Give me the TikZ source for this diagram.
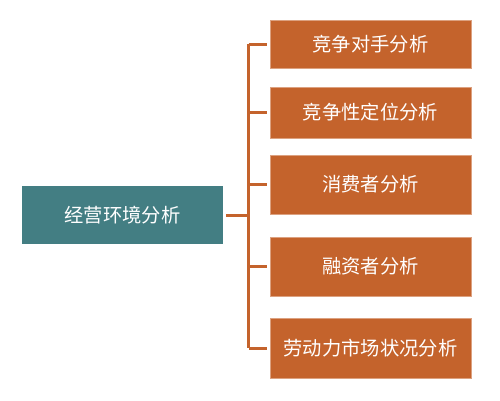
\documentclass[tikz,border=0pt]{standalone}
\usepackage{fontspec}
\newfontfamily\cjk{Noto Sans CJK SC}
\definecolor{boxorange}{HTML}{C4632C}
\definecolor{boxteal}{HTML}{437E83}
\tikzset{
  base/.style={rectangle, inner sep=0pt, minimum width=201pt, text=white,
    font=\cjk\fontsize{19.3pt}{21pt}\selectfont},
  rootbox/.style={base, fill=boxteal},
  leafbox/.style={base, fill=boxorange, draw=boxorange!60, line width=0.6pt},
  conn/.style={draw=boxorange, line width=3pt}
}
\begin{document}
\begin{tikzpicture}[x=1pt,y=-1pt]
\useasboundingbox (0,0) rectangle (500,400);
\node[rootbox, minimum height=58pt] (L) at (122.5,215) {经营环境分析};
\node[leafbox, minimum height=48pt] (R1) at (370.5,44) {竞争对手分析};
\node[leafbox, minimum height=51pt] (R2) at (370.5,112.5) {竞争性定位分析};
\node[leafbox, minimum height=59pt] (R3) at (370.5,184.5) {消费者分析};
\node[leafbox, minimum height=59pt] (R4) at (370.5,266.5) {融资者分析};
\node[leafbox, minimum height=60pt] (R5) at (370.5,348) {劳动力市场状况分析};
\coordinate (T) at (248.5,215);
\draw[conn] ([xshift=3pt]L.east) -- (T);
\draw[conn] (T|-R1.west) -- (T|-R5.west);
\foreach \n in {R1,R2,R3,R4,R5}
  \draw[conn] (T|-\n.west) -- ([xshift=-3pt]\n.west);
\end{tikzpicture}
\end{document}
